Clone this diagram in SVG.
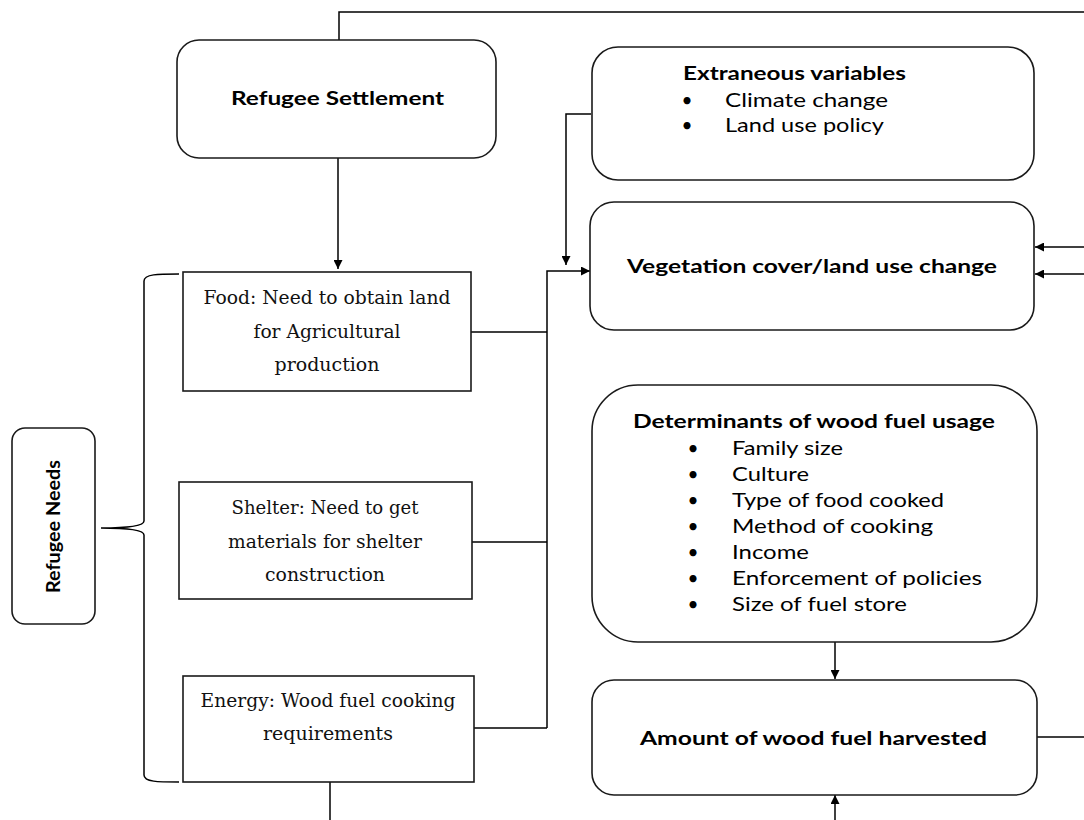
<svg xmlns="http://www.w3.org/2000/svg" width="1084" height="820" viewBox="0 0 1084 820">
<defs>
<marker id="arr" viewBox="0 0 10 10" refX="10" refY="5" markerWidth="10" markerHeight="9" markerUnits="userSpaceOnUse" orient="auto">
<path d="M0,0 L10,5 L0,10 Z" fill="#000"/>
</marker>
<style>
.box{fill:#fff;stroke:#1a1a1a;stroke-width:1.6}
.ln{fill:none;stroke:#000;stroke-width:1.5}
.sb{font-family:Lato,"Liberation Sans",sans-serif;font-weight:bold;font-size:19px;fill:#000}
.sr{font-family:Lato,"Liberation Sans",sans-serif;font-size:19px;fill:#000}
.bu{font-family:Lato,"Liberation Sans",sans-serif;font-size:19px;fill:#000;text-anchor:middle}
.se{font-family:"DejaVu Serif","Liberation Serif",serif;font-size:18px;fill:#111;text-anchor:middle}
</style>
</defs>
<rect width="1084" height="820" fill="#fff"/>

<g id="connectors">
<path class="ln" d="M339,40 V12 H1084"/>
<path class="ln" d="M338,158 V269" marker-end="url(#arr)"/>
<path class="ln" d="M591,114 H566 V265" marker-end="url(#arr)"/>
<path class="ln" d="M470,332 H547 M471,542 H547 M474,728 H547 M547,728 V271 H590" marker-end="url(#arr)"/>
<path class="ln" d="M1084,247 H1035" marker-end="url(#arr)"/>
<path class="ln" d="M1084,274 H1035" marker-end="url(#arr)"/>
<path class="ln" d="M835,642 V679" marker-end="url(#arr)"/>
<path class="ln" d="M835,820 V795" marker-end="url(#arr)"/>
<path class="ln" d="M1037,737 H1084"/>
<path class="ln" d="M330,782 V820"/>
<path class="ln" d="M179,274 C158,274 144,274 144,281 L144,521 C144,526 128,528 101,528 C128,528 144,530 144,535 L144,775 C144,782 158,782 179,782"/>
</g>

<g id="refugee-settlement">
<rect class="box" x="177" y="40" width="319" height="118" rx="22"/>
<text class="sb" x="231" y="105" textLength="213" lengthAdjust="spacingAndGlyphs">Refugee Settlement</text>
</g>

<g id="extraneous">
<rect class="box" x="592" y="47" width="442" height="133" rx="26"/>
<text class="sb" x="683" y="80" textLength="223" lengthAdjust="spacingAndGlyphs">Extraneous variables</text>
<text class="bu" x="687" y="107">•</text>
<text class="sr" x="725" y="107" textLength="163" lengthAdjust="spacingAndGlyphs">Climate change</text>
<text class="bu" x="687" y="132">•</text>
<text class="sr" x="725" y="132" textLength="159" lengthAdjust="spacingAndGlyphs">Land use policy</text>
</g>

<g id="vegetation">
<rect class="box" x="590" y="202" width="444" height="128" rx="24"/>
<text class="sb" x="627" y="273" textLength="370" lengthAdjust="spacingAndGlyphs">Vegetation cover/land use change</text>
</g>

<g id="food">
<rect class="box" x="183" y="272" width="288" height="119"/>
<text class="se" x="327" y="304" textLength="247" lengthAdjust="spacingAndGlyphs">Food: Need to obtain land</text>
<text class="se" x="327" y="338" textLength="147" lengthAdjust="spacingAndGlyphs">for Agricultural</text>
<text class="se" x="327" y="371" textLength="105" lengthAdjust="spacingAndGlyphs">production</text>
</g>

<g id="shelter">
<rect class="box" x="179" y="482" width="293" height="117"/>
<text class="se" x="325" y="514" textLength="187" lengthAdjust="spacingAndGlyphs">Shelter: Need to get</text>
<text class="se" x="325" y="548" textLength="194" lengthAdjust="spacingAndGlyphs">materials for shelter</text>
<text class="se" x="325" y="581" textLength="120" lengthAdjust="spacingAndGlyphs">construction</text>
</g>

<g id="energy">
<rect class="box" x="183" y="676" width="291" height="106"/>
<text class="se" x="328" y="707" textLength="255" lengthAdjust="spacingAndGlyphs">Energy: Wood fuel cooking</text>
<text class="se" x="328" y="740" textLength="130" lengthAdjust="spacingAndGlyphs">requirements</text>
</g>

<g id="refugee-needs">
<rect class="box" x="12" y="428" width="83" height="196" rx="13"/>
<text class="sb" transform="translate(60,527) rotate(-90)" x="-66" y="0" textLength="133" lengthAdjust="spacingAndGlyphs">Refugee Needs</text>
</g>

<g id="determinants">
<rect class="box" x="592" y="385" width="445" height="257" rx="46"/>
<text class="sb" x="633" y="428" textLength="362" lengthAdjust="spacingAndGlyphs">Determinants of wood fuel usage</text>
<text class="bu" x="693" y="455">•</text><text class="sr" x="732" y="455" textLength="111" lengthAdjust="spacingAndGlyphs">Family size</text>
<text class="bu" x="693" y="481">•</text><text class="sr" x="732" y="481" textLength="77" lengthAdjust="spacingAndGlyphs">Culture</text>
<text class="bu" x="693" y="507">•</text><text class="sr" x="732" y="507" textLength="212" lengthAdjust="spacingAndGlyphs">Type of food cooked</text>
<text class="bu" x="693" y="533">•</text><text class="sr" x="732" y="533" textLength="201" lengthAdjust="spacingAndGlyphs">Method of cooking</text>
<text class="bu" x="693" y="559">•</text><text class="sr" x="732" y="559" textLength="77" lengthAdjust="spacingAndGlyphs">Income</text>
<text class="bu" x="693" y="585">•</text><text class="sr" x="732" y="585" textLength="250" lengthAdjust="spacingAndGlyphs">Enforcement of policies</text>
<text class="bu" x="693" y="611">•</text><text class="sr" x="732" y="611" textLength="175" lengthAdjust="spacingAndGlyphs">Size of fuel store</text>
</g>

<g id="amount">
<rect class="box" x="592" y="680" width="445" height="115" rx="22"/>
<text class="sb" x="640" y="745" textLength="347" lengthAdjust="spacingAndGlyphs">Amount of wood fuel harvested</text>
</g>
</svg>
